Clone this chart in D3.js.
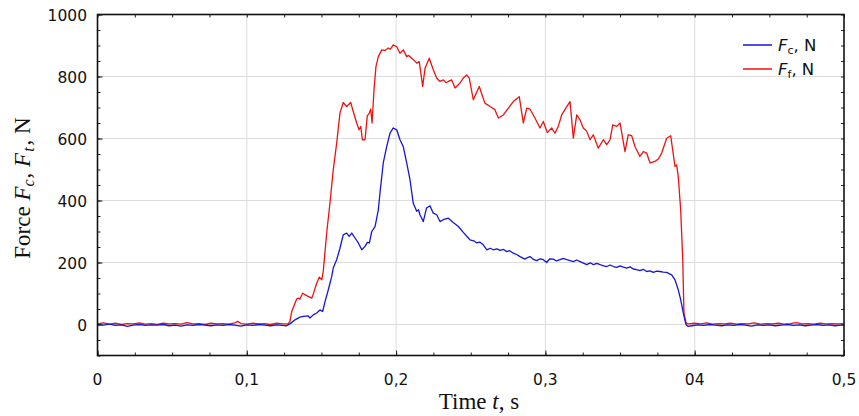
<!DOCTYPE html>
<html><head><meta charset="utf-8">
<script src="https://cdn.jsdelivr.net/npm/d3@7"></script>
<style>body{margin:0;background:#fff}svg{display:block}</style>
</head><body><svg id="c" width="859" height="416"></svg>
<script>
const xTicks = [0, 0.1, 0.2, 0.3, 0.4, 0.5];
const xTickLabels = ["0", "0,1", "0,2", "0,3", "04", "0,5"];
const yTicks = [0, 200, 400, 600, 800, 1000];
const yTickLabels = ["0", "200", "400", "600", "800", "1000"];
const seriesNames = ["Fc", "Ff"];

// F_t (red) [time s, force N]
const ffData = [
[0,2],[0.004,5],[0.008,1],[0.012,4],[0.016,0],[0.02,3],[0.024,2],[0.028,5],[0.032,1],[0.036,3],[0.04,0],[0.044,4],[0.048,2],[0.052,3],[0.056,1],[0.06,6],[0.064,2],[0.068,3],[0.072,0],[0.076,4],[0.08,2],[0.084,3],[0.088,1],[0.092,5],[0.094,10],[0.096,3],[0.1,1],[0.104,4],[0.108,2],[0.112,3],[0.116,0],[0.12,4],[0.124,2],
[0.1276,2],[0.1289,10],[0.1301,42],[0.1334,82],[0.1345,85],[0.1356,82],[0.1374,101],[0.1401,93],[0.1435,85],[0.1445,98],[0.1468,133],[0.1486,153],[0.1502,144],[0.1512,171],[0.1535,295],[0.1557,391],[0.1579,499],[0.1602,585],[0.1624,682],[0.1646,716],[0.1669,703],[0.1696,716],[0.1713,687],[0.1736,650],[0.1752,628],[0.1763,639],[0.1774,596],[0.1792,596],[0.1807,673],[0.1821,682],[0.1830,695],[0.1839,650],[0.1852,757],[0.1865,832],[0.1881,864],[0.1904,886],[0.1925,884],[0.1948,892],[0.1962,888],[0.1981,902],[0.2004,896],[0.2026,875],[0.2048,886],[0.2071,864],[0.2085,868],[0.2104,859],[0.2120,852],[0.2138,843],[0.2155,848],[0.2178,768],[0.2194,827],[0.2222,859],[0.2249,822],[0.2272,795],[0.2294,784],[0.2316,789],[0.2335,780],[0.2350,784],[0.2372,789],[0.2395,763],[0.2428,779],[0.2450,795],[0.2473,805],[0.2490,795],[0.2517,725],[0.2557,768],[0.2575,742],[0.2595,714],[0.2629,703],[0.2662,693],[0.2685,666],[0.2718,676],[0.2752,698],[0.2785,719],[0.2825,735],[0.2852,650],[0.2875,698],[0.2897,695],[0.2930,666],[0.2964,634],[0.2986,655],[0.3013,619],[0.3042,634],[0.3064,617],[0.3086,639],[0.3109,676],[0.3143,703],[0.3165,719],[0.3187,601],[0.3210,676],[0.3232,660],[0.3254,634],[0.3277,623],[0.3299,596],[0.3321,612],[0.3354,569],[0.3388,596],[0.3411,580],[0.3433,596],[0.3451,644],[0.3478,639],[0.3500,650],[0.3533,558],[0.3555,612],[0.3578,609],[0.3600,574],[0.3633,542],[0.3656,558],[0.3678,553],[0.3701,521],[0.3734,526],[0.3756,534],[0.3779,553],[0.3812,601],[0.3839,609],[0.3868,510],[0.3879,515],[0.3890,477],[0.3906,370],[0.3920,209],[0.3928,37],[0.3942,5],[0.3957,2],
[0.4,4],[0.404,2],[0.408,5],[0.412,1],[0.416,3],[0.42,2],[0.424,4],[0.428,1],[0.432,3],[0.436,2],[0.44,5],[0.444,1],[0.448,3],[0.452,2],[0.456,4],[0.46,1],[0.464,3],[0.468,6],[0.472,2],[0.476,3],[0.48,1],[0.484,4],[0.488,2],[0.492,3],[0.496,2],[0.5,3]
];

// F_c (blue) [time s, force N]
const fcData = [
[0,0],[0.004,-2],[0.008,1],[0.012,-3],[0.016,-1],[0.02,-6],[0.024,-2],[0.028,0],[0.032,-3],[0.036,-1],[0.04,-2],[0.044,0],[0.048,-4],[0.052,-2],[0.056,-5],[0.06,-1],[0.064,-3],[0.068,0],[0.072,-2],[0.076,-4],[0.08,-1],[0.084,-3],[0.088,0],[0.092,-2],[0.096,-5],[0.1,-1],[0.104,-3],[0.108,0],[0.112,-2],[0.116,-4],[0.12,-1],[0.124,-3],
[0.1267,-4],[0.1289,2],[0.1323,15],[0.1356,24],[0.1378,26],[0.1412,28],[0.1423,21],[0.1445,31],[0.1468,37],[0.1490,47],[0.1508,42],[0.1524,74],[0.1546,112],[0.1569,155],[0.1579,182],[0.1602,209],[0.1624,246],[0.1646,289],[0.1669,295],[0.1686,284],[0.1703,295],[0.1725,279],[0.1747,263],[0.1770,241],[0.1792,252],[0.1807,265],[0.1821,263],[0.1837,300],[0.1859,316],[0.1881,370],[0.1892,424],[0.1914,521],[0.1937,574],[0.1959,617],[0.1981,634],[0.2004,628],[0.2026,596],[0.2048,574],[0.2071,521],[0.2093,467],[0.2115,391],[0.2138,365],[0.2150,370],[0.2160,354],[0.2182,332],[0.2204,376],[0.2227,383],[0.2249,359],[0.2272,354],[0.2294,332],[0.2316,338],[0.2350,343],[0.2383,329],[0.2417,316],[0.2450,297],[0.2484,279],[0.2495,273],[0.2520,270],[0.2540,263],[0.2560,266],[0.2584,257],[0.2608,241],[0.2630,246],[0.2651,241],[0.2675,244],[0.2696,239],[0.2720,242],[0.2741,235],[0.2760,238],[0.2785,230],[0.2810,225],[0.2830,219],[0.2863,211],[0.2880,216],[0.2897,219],[0.2920,210],[0.2942,206],[0.2965,212],[0.2986,209],[0.3008,200],[0.3030,212],[0.3053,211],[0.3075,205],[0.3098,209],[0.3120,213],[0.3143,209],[0.3165,206],[0.3187,203],[0.3210,208],[0.3232,203],[0.3255,198],[0.3277,193],[0.3300,199],[0.3321,193],[0.3345,197],[0.3366,193],[0.3390,189],[0.3411,187],[0.3433,192],[0.3455,187],[0.3478,184],[0.3500,189],[0.3522,185],[0.3545,182],[0.3567,186],[0.3589,179],[0.3611,177],[0.3633,174],[0.3655,178],[0.3678,171],[0.3700,173],[0.3723,168],[0.3745,172],[0.3767,171],[0.3790,169],[0.3812,168],[0.3846,160],[0.3868,144],[0.3890,112],[0.3906,80],[0.3924,37],[0.3942,-1],[0.3957,-6],
[0.398,-4],[0.402,-1],[0.406,-3],[0.41,0],[0.414,-2],[0.418,-4],[0.422,-1],[0.426,-3],[0.43,0],[0.434,-2],[0.438,-5],[0.442,-1],[0.446,-3],[0.45,-1],[0.454,-4],[0.458,-2],[0.462,0],[0.466,-3],[0.47,-1],[0.474,-4],[0.478,-2],[0.482,0],[0.486,-3],[0.49,-1],[0.494,-4],[0.498,-2],[0.5,-1]
];

const svg = d3.select("#c");
const x = d3.scaleLinear().domain([0, 0.5]).range([97.5, 844]);
const y = d3.scaleLinear().domain([-100, 1000]).range([355.5, 14.5]);
const x0 = x.range()[0], x1 = x.range()[1], y0 = y.range()[0], y1 = y.range()[1];
const sans = "DejaVu Sans, Verdana, sans-serif";
const serif = "Liberation Serif, Times New Roman, serif";

// grid
svg.append("g").selectAll("line").data(xTicks.slice(1, -1)).join("line")
  .attr("x1", d => x(d)).attr("x2", d => x(d)).attr("y1", y1).attr("y2", y0)
  .attr("stroke", "#dcdcdc").attr("stroke-width", 1);
svg.append("g").selectAll("line").data(yTicks.slice(0, -1)).join("line")
  .attr("x1", x0).attr("x2", x1).attr("y1", d => y(d)).attr("y2", d => y(d))
  .attr("stroke", "#dcdcdc").attr("stroke-width", 1);

// lines
const line = d3.line().x(d => x(d[0])).y(d => y(d[1]));
svg.append("path").datum(ffData).attr("d", line).attr("fill", "none")
  .attr("stroke", "#ee1111").attr("stroke-width", 1.3).attr("stroke-linejoin", "round");
svg.append("path").datum(fcData).attr("d", line).attr("fill", "none")
  .attr("stroke", "#1515d8").attr("stroke-width", 1.3).attr("stroke-linejoin", "round");

// axes (inward ticks on all sides)
const xMinor = d3.range(0, 0.5001, 0.025);
const yMinor = d3.range(-100, 1000.1, 50);
function style(g){ g.select(".domain").remove(); g.selectAll("line").attr("stroke","#222").attr("stroke-width",1); }
svg.append("g").attr("transform", `translate(0,${y0})`).call(d3.axisBottom(x).tickValues(xMinor).tickSize(-3).tickFormat("")).call(style);
svg.append("g").attr("transform", `translate(0,${y1})`).call(d3.axisTop(x).tickValues(xMinor).tickSize(-3).tickFormat("")).call(style);
svg.append("g").attr("transform", `translate(${x0},0)`).call(d3.axisLeft(y).tickValues(yMinor).tickSize(-3).tickFormat("")).call(style);
svg.append("g").attr("transform", `translate(${x1},0)`).call(d3.axisRight(y).tickValues(yMinor).tickSize(-3).tickFormat("")).call(style);
svg.append("g").attr("transform", `translate(0,${y0})`)
  .call(d3.axisBottom(x).tickValues(xTicks).tickSize(-5).tickFormat("")).call(style);
svg.append("g").attr("transform", `translate(${x0},0)`)
  .call(d3.axisLeft(y).tickValues(yTicks).tickSize(-5).tickFormat("")).call(style);

svg.append("rect").attr("x", x0).attr("y", y1).attr("width", x1 - x0).attr("height", y0 - y1)
  .attr("fill", "none").attr("stroke", "#111").attr("stroke-width", 1.6);

// tick labels
svg.append("g").selectAll("text").data(xTicks).join("text")
  .attr("x", d => x(d)).attr("y", 385).attr("text-anchor", "middle")
  .attr("font-family", sans).attr("font-size", 15.5).attr("fill", "#111")
  .text((d, i) => xTickLabels[i]);
svg.append("g").selectAll("text").data(yTicks).join("text")
  .attr("x", 87).attr("y", d => y(d) + 6).attr("text-anchor", "end")
  .attr("font-family", sans).attr("font-size", 15.5).attr("fill", "#111")
  .text((d, i) => yTickLabels[i]);

// axis titles
const xt = svg.append("text").attr("x", 479).attr("y", 409).attr("text-anchor", "middle")
  .attr("font-family", serif).attr("font-size", 23).attr("fill", "#111");
xt.append("tspan").text("Time ");
xt.append("tspan").attr("font-style", "italic").text("t");
xt.append("tspan").text(", s");

const yt = svg.append("text").attr("transform", "translate(30,188) rotate(-90)").attr("text-anchor", "middle")
  .attr("font-family", serif).attr("font-size", 23).attr("fill", "#111");
yt.append("tspan").text("Force ");
yt.append("tspan").attr("font-style", "italic").text("F");
yt.append("tspan").attr("font-style", "italic").attr("font-size", 16).attr("dy", 4).text("c");
yt.append("tspan").attr("dy", -4).attr("dx", 1).text(", ");
yt.append("tspan").attr("font-style", "italic").text("F");
yt.append("tspan").attr("font-style", "italic").attr("font-size", 16).attr("dy", 4).attr("dx", 1).text("t");
yt.append("tspan").attr("dy", -4).attr("dx", 2).text(", N");

// legend
const legend = [{sub: "c", color: "#1515d8", yy: 45}, {sub: "f", color: "#ee1111", yy: 69}];
const lg = svg.append("g").selectAll("g").data(legend).join("g");
lg.append("line").attr("x1", 743).attr("x2", 772).attr("y1", d => d.yy).attr("y2", d => d.yy)
  .attr("stroke", d => d.color).attr("stroke-width", 1.5);
const lt = lg.append("text").attr("x", 778).attr("y", d => d.yy + 6)
  .attr("font-family", sans).attr("font-size", 16.5).attr("fill", "#111");
lt.append("tspan").attr("font-style", "italic").text("F");
lt.append("tspan").attr("font-size", 11).attr("dy", 3).text(d => d.sub);
lt.append("tspan").attr("dy", -3).text(", N");
</script></body></html>
